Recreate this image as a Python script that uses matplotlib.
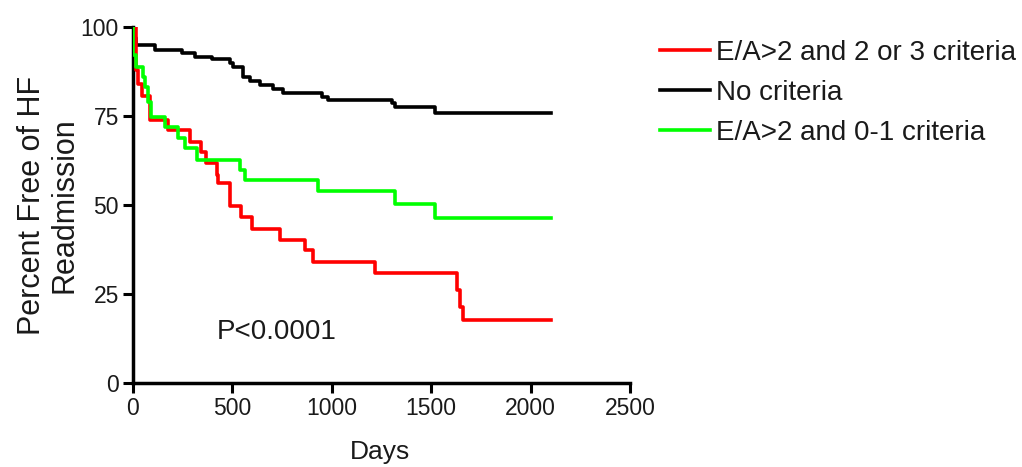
import matplotlib
matplotlib.use("Agg")
import matplotlib.pyplot as plt

plt.rcParams['font.family'] = ['Liberation Sans', 'DejaVu Sans']

# Kaplan-Meier step curves (days, percent free of readmission)
red_days = [0, 15, 25, 45, 85, 178, 287, 345, 370, 421, 429, 488, 546, 597, 739, 865, 907, 1217, 1628, 1645, 1662, 2105]
red_vals = [100, 88, 84, 80.5, 73.9, 71.1, 67.8, 65.0, 61.7, 58.4, 56.1, 49.6, 46.5, 43.2, 40.2, 37.4, 34.1, 30.8, 26.1, 21.4, 17.7, 17.7]

black_days = [0, 3, 10, 18, 111, 245, 312, 396, 488, 505, 555, 589, 639, 706, 756, 949, 983, 1301, 1318, 1519, 2105]
black_vals = [100, 98.5, 97, 94.9, 93.7, 92.8, 91.7, 90.9, 89.8, 88.7, 86.0, 84.8, 83.7, 82.6, 81.6, 80.4, 79.5, 78.6, 77.6, 75.9, 75.9]

green_days = [0, 2, 18, 52, 62, 75, 89, 161, 228, 262, 324, 541, 563, 932, 1318, 1519, 2105]
green_vals = [100, 92.1, 88.9, 86.0, 83.2, 79.0, 74.8, 72.0, 68.7, 65.9, 62.6, 59.8, 57.0, 53.9, 50.3, 46.3, 46.3]

labels = ['E/A>2 and 2 or 3 criteria', 'No criteria', 'E/A>2 and 0-1 criteria']
xticks = [0, 500, 1000, 1500, 2000, 2500]
yticks = [0, 25, 50, 75, 100]

txt = '#1a1a1a'

fig = plt.figure(figsize=(10.22, 4.67), dpi=100)
ax = fig.add_axes([0.130, 0.180, 0.4864, 0.762])

ax.plot(red_days, red_vals, drawstyle='steps-post', color='#ff0000', lw=2.6, label=labels[0], zorder=3)
ax.plot(black_days, black_vals, drawstyle='steps-post', color='black', lw=2.6, label=labels[1], zorder=2)
ax.plot(green_days, green_vals, drawstyle='steps-post', color='#00ff00', lw=2.6, label=labels[2], zorder=4)

ax.set_xlim(0, 2500)
ax.set_ylim(0, 100)
ax.set_xticks(xticks)
ax.set_yticks(yticks)
ax.spines['top'].set_visible(False)
ax.spines['right'].set_visible(False)
for s in ['left', 'bottom']:
    ax.spines[s].set_linewidth(2.5)
ax.tick_params(direction='out', length=7, width=2.2, labelsize=16.5, labelcolor=txt, pad=3)

ax.text(422, 14.3, 'P<0.0001', fontsize=20, color=txt, ha='left', va='center')

fig.text(0.372, 1 - 452 / 467, 'Days', fontsize=19, color=txt, ha='center', va='center')
fig.text(48 / 1022, 1 - 205 / 467, 'Percent Free of HF\nReadmission', fontsize=22, color=txt,
         rotation=90, ha='center', va='center', multialignment='center', linespacing=1.1)

fig.legend(loc='upper left', bbox_to_anchor=(0.646, 1 - 40 / 467), frameon=False,
           fontsize=20, handlelength=1.8, handletextpad=0.2, labelspacing=0.5,
           borderpad=0, borderaxespad=0, labelcolor=txt)

fig.savefig('out.png', dpi=100)
